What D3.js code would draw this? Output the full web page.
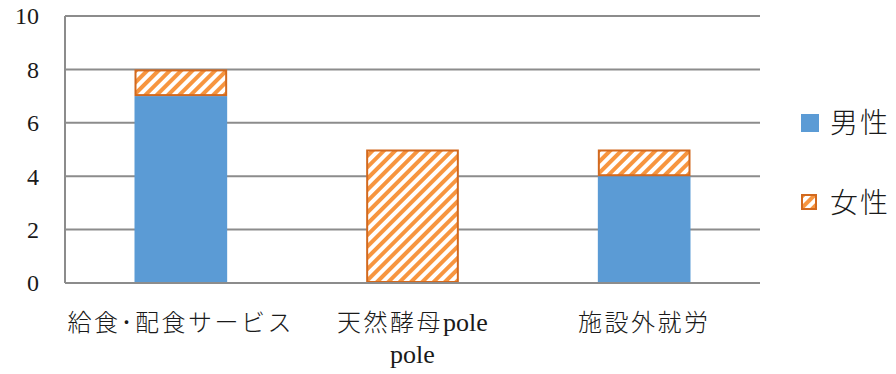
<!DOCTYPE html>
<html><head><meta charset="utf-8">
<script src="https://cdn.jsdelivr.net/npm/d3@7"></script>
</head>
<body style="margin:0;background:#fff">
<svg id="chart" width="896" height="374" style="display:block"></svg>
<script>
const categories = ["給食･配食サービス", "天然酵母pole pole", "施設外就労"];
// each label: lines -> segments [text, isLatin]
const categoryLines = [
  [[["給食･配食サービス", false]]],
  [[["天然酵母", false], ["pole", true]], [["pole", true]]],
  [[["施設外就労", false]]]
];
const male = [7, 0, 4];
const female = [1, 5, 1];
const seriesNames = ["男性", "女性"];
const yTicks = [0, 2, 4, 6, 8, 10];

const SERIF = '"Liberation Serif"';
const CJK = '"Noto Sans CJK JP"';
const TXT = "#1a1a1a";

const svg = d3.select("#chart");
const m = {left:65, right:136, top:16, bottom:91};
const W = 896, H = 374;
const x = d3.scaleBand().domain(categories).range([m.left, W - m.right]).paddingInner(0.6).paddingOuter(0.3);
const y = d3.scaleLinear().domain([0, 10]).range([H - m.bottom, m.top]);

const defs = svg.append("defs");
const pat = defs.append("pattern").attr("id","stripe").attr("patternUnits","userSpaceOnUse")
  .attr("width",8).attr("height",8).attr("patternTransform","rotate(45)");
pat.append("rect").attr("width",8).attr("height",8).attr("fill","#fff");
pat.append("rect").attr("x",0).attr("width",4).attr("height",8).attr("fill","#F7953F");

// gridlines
svg.append("g").selectAll("line").data(yTicks).join("line")
  .attr("x1", m.left).attr("x2", W - m.right)
  .attr("y1", d => y(d)).attr("y2", d => y(d))
  .attr("stroke", "#8c8c8c").attr("stroke-width", 2);
svg.append("line").attr("x1", m.left).attr("x2", m.left).attr("y1", y(10)).attr("y2", y(0))
  .attr("stroke","#8c8c8c").attr("stroke-width",2);

// y labels
svg.append("g").selectAll("text").data(yTicks).join("text")
  .attr("x", 39).attr("y", d => y(d)).attr("dy","0.35em").attr("text-anchor","end")
  .attr("font-family", "Liberation Serif").attr("font-size", 24).attr("fill", TXT).text(d => d);

// bars
const bw = x.bandwidth();
svg.append("g").selectAll("rect").data(categories).join("rect")
  .attr("x", d => x(d)).attr("width", bw)
  .attr("y", (d,i) => y(male[i])).attr("height", (d,i) => y(0) - y(male[i]))
  .attr("fill", "#5B9BD5");
svg.append("g").selectAll("rect").data(categories).join("rect")
  .attr("x", d => x(d)+1).attr("width", bw-2)
  .attr("y", (d,i) => y(male[i]+female[i])+1).attr("height", (d,i) => y(male[i]) - y(male[i]+female[i]) - 2)
  .attr("fill", "url(#stripe)").attr("stroke", "#D2691E").attr("stroke-width", 2);

svg.append("line").attr("x1", m.left).attr("x2", W - m.right).attr("y1", y(0)).attr("y2", y(0))
  .attr("stroke","#8c8c8c").attr("stroke-width",2);

// x labels
categories.forEach((c, i) => {
  const cx = x(c) + bw/2;
  categoryLines[i].forEach((segs, j) => {
    const t = svg.append("text").attr("x", cx).attr("y", 331 + j*32)
      .attr("text-anchor","middle").attr("fill", TXT);
    segs.forEach(([s, lat]) => {
      const ts = t.append("tspan").text(s);
      if (lat) ts.attr("font-family", "Liberation Serif").attr("font-size", 26);
      else ts.attr("font-family", "Noto Sans CJK JP").attr("font-size", 24).attr("font-weight", 300).attr("letter-spacing", 2.5);
    });
  });
});

// legend
const lg = svg.append("g");
lg.append("rect").attr("x",801).attr("y",114).attr("width",18).attr("height",18).attr("fill","#5B9BD5");
lg.append("rect").attr("x",802).attr("y",195).attr("width",14).attr("height",14)
  .attr("fill","url(#stripe)").attr("stroke","#D2691E").attr("stroke-width",2);
lg.selectAll("text").data(seriesNames).join("text")
  .attr("x",830).attr("y",(d,i) => i ? 203 : 123).attr("dy","0.36em")
  .attr("font-family", "Noto Sans CJK JP").attr("font-weight", 300).attr("font-size", 28)
  .attr("letter-spacing", 2).attr("fill", TXT).text(d => d);
</script>
</body></html>
